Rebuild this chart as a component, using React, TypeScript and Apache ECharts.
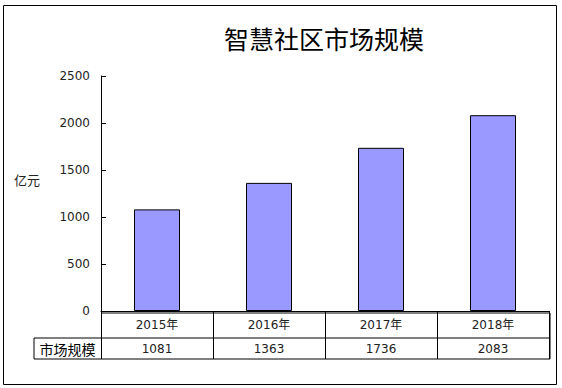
import React, { useEffect, useRef } from "react";
import * as echarts from "echarts";

const title = "智慧社区市场规模";
const unitLabel = "亿元";
const rowLabel = "市场规模";
const years = ["2015年", "2016年", "2017年", "2018年"];
const values = [1081, 1363, 1736, 2083];
const yMax = 2500;
const yInterval = 500;

const FONT = "'DejaVu Sans', 'Noto Sans CJK SC', sans-serif";
const CJK = "'Noto Sans CJK SC', sans-serif";

export default function App() {
  const ref = useRef<HTMLDivElement>(null);
  useEffect(() => {
    if (!ref.current) return;
    const chart = echarts.init(ref.current, null, { renderer: "svg" });
    const gl = 101, gt = 76, gw = 448, gh = 235;
    const gb = gt + gh; // 311
    const right = gl + gw + 1; // 550
    const tblLeft = 34;
    const row1Top = 313, row2Top = 338, tblBottom = 359;
    const line = (x1: number, y1: number, x2: number, y2: number) => ({
      type: "line",
      shape: { x1, y1, x2, y2 },
      style: { stroke: "#000", lineWidth: 1 },
      silent: true,
    });
    chart.setOption({
      animation: false,
      backgroundColor: "#fff",
      grid: { left: gl, top: gt, width: gw, height: gh, containLabel: false },
      xAxis: [
        {
          type: "category",
          data: years,
          position: "bottom",
          axisLine: { show: true, lineStyle: { color: "#000", width: 1 } },
          axisTick: { show: true, inside: false, length: tblBottom - gb, alignWithLabel: false, interval: 0, lineStyle: { color: "#000" } },
          axisLabel: { margin: 8, fontSize: 12, color: "#222", fontFamily: FONT, interval: 0 },
          splitLine: { show: false },
        },
        {
          type: "category",
          data: values.map((v) => String(v)),
          position: "bottom",
          axisLine: { show: false },
          axisTick: { show: false },
          axisLabel: { margin: 32, fontSize: 12, color: "#222", fontFamily: FONT, interval: 0 },
          splitLine: { show: false },
        },
      ],
      yAxis: {
        type: "value",
        min: 0,
        max: yMax,
        interval: yInterval,
        axisLine: { show: true, lineStyle: { color: "#000", width: 1 } },
        axisTick: { show: true, inside: true, length: 5, lineStyle: { color: "#000" } },
        axisLabel: { margin: 11, fontSize: 12, color: "#222", fontFamily: FONT, formatter: (v: number) => String(v) },
        splitLine: { show: false },
      },
      series: [
        {
          type: "bar",
          data: values,
          xAxisIndex: 0,
          barWidth: 46,
          itemStyle: { color: "#9999FF", borderColor: "#000", borderWidth: 1 },
        },
      ],
      graphic: [
        {
          type: "rect",
          shape: { x: 3.5, y: 5.5, width: 553, height: 379 },
          style: { fill: "none", stroke: "#000", lineWidth: 1 },
          silent: true,
          z: -1,
        },
        {
          type: "text",
          x: 324,
          y: 38,
          style: { text: title, fontSize: 25, fontFamily: CJK, fill: "#000", textAlign: "center", textVerticalAlign: "middle" },
        },
        {
          type: "text",
          x: 14,
          y: 179,
          style: { text: unitLabel, fontSize: 13, fontFamily: CJK, fill: "#222", textAlign: "left", textVerticalAlign: "middle" },
        },
        {
          type: "text",
          x: (tblLeft + gl) / 2,
          y: (row2Top + tblBottom) / 2,
          style: { text: rowLabel, fontSize: 14, fontFamily: CJK, fill: "#000", textAlign: "center", textVerticalAlign: "middle" },
        },
        line(gl, row1Top, right, row1Top),
        line(tblLeft, row2Top, right, row2Top),
        line(tblLeft, tblBottom, right, tblBottom),
        line(tblLeft, row2Top, tblLeft, tblBottom),
        line(right, row1Top, right, tblBottom),
      ],
    });
    return () => chart.dispose();
  }, []);
  return <div ref={ref} style={{ position: "fixed", left: 0, top: 0, width: 562, height: 388 }} />;
}
